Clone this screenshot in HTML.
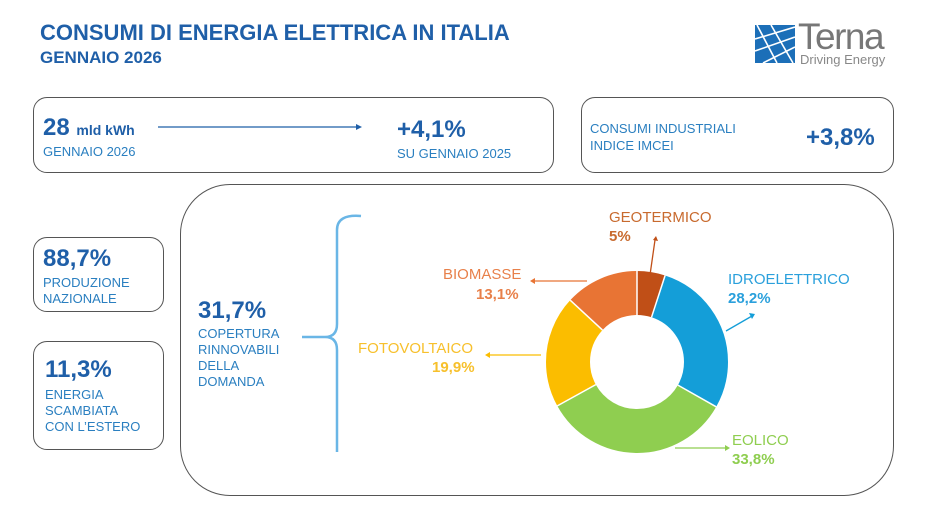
<!DOCTYPE html>
<html><head><meta charset="utf-8"><style>
body{margin:0;width:925px;height:509px;background:#fff;font-family:"Liberation Sans",sans-serif;position:relative;overflow:hidden}
.a{position:absolute;white-space:nowrap}
.box{position:absolute;border:1px solid #555;border-radius:14px;box-sizing:border-box}
.b{color:#1f5fa8;font-weight:bold}
.l{color:#2a7fc0}
</style></head><body>
<div class="a b" style="left:40px;top:20px;font-size:22px">CONSUMI DI ENERGIA ELETTRICA IN ITALIA</div>
<div class="a b" style="left:40px;top:48px;font-size:17px">GENNAIO 2026</div>
<svg class="a" style="left:755px;top:25px" width="40" height="38"><rect width="40" height="38" fill="#1c6fb8"/><path d="M0 14 L40 2 M0 26 L40 12 M8 38 L40 22 M2 0 L22 38 M16 0 L38 38" stroke="#fff" stroke-width="1.6" fill="none"/></svg>
<div class="a" style="left:798px;top:16px;font-size:37px;color:#777;letter-spacing:-1.5px">Terna</div>
<div class="a" style="left:800px;top:52px;font-size:13px;color:#888">Driving Energy</div>

<div class="box" style="left:33px;top:97px;width:521px;height:76px"></div>
<div class="a b" style="left:43px;top:114px;font-size:24px">28 <span style="font-size:14px">mld kWh</span></div>
<div class="a l" style="left:43px;top:144px;font-size:13px">GENNAIO 2026</div>
<svg class="a" style="left:158px;top:122px" width="205" height="10"><line x1="0" y1="5" x2="198" y2="5" stroke="#1f5fa8" stroke-width="1.3"/><path d="M198 2 L204 5 L198 8Z" fill="#1f5fa8"/></svg>
<div class="a b" style="left:397px;top:116px;font-size:24px">+4,1%</div>
<div class="a l" style="left:397px;top:146px;font-size:13px">SU GENNAIO 2025</div>

<div class="box" style="left:581px;top:97px;width:313px;height:76px"></div>
<div class="a l" style="left:590px;top:120px;font-size:13px;line-height:17px">CONSUMI INDUSTRIALI<br>INDICE IMCEI</div>
<div class="a b" style="left:806px;top:124px;font-size:24px">+3,8%</div>

<div class="box" style="left:33px;top:237px;width:131px;height:75px"></div>
<div class="a b" style="left:43px;top:245px;font-size:24px">88,7%</div>
<div class="a l" style="left:43px;top:275px;font-size:13px;line-height:16px">PRODUZIONE<br>NAZIONALE</div>
<div class="box" style="left:33px;top:341px;width:131px;height:109px"></div>
<div class="a b" style="left:45px;top:356px;font-size:24px">11,3%</div>
<div class="a l" style="left:45px;top:387px;font-size:13px;line-height:16px">ENERGIA<br>SCAMBIATA<br>CON L’ESTERO</div>

<div class="box" style="left:180px;top:184px;width:714px;height:312px;border-radius:50px"></div>
<div class="a b" style="left:198px;top:297px;font-size:24px">31,7%</div>
<div class="a l" style="left:198px;top:326px;font-size:13px;line-height:16px">COPERTURA<br>RINNOVABILI<br>DELLA<br>DOMANDA</div>
<svg class="a" style="left:295px;top:210px" width="70" height="250"><path d="M66 6 Q42 4 42 20 L42 114 Q42 127 30 127 Q42 127 42 140 L42 242 M30 127 L7 127" stroke="#6ab6e6" stroke-width="2.5" fill="none"/></svg>

<svg class="a" style="left:0;top:0" width="925" height="509">
<g transform="rotate(-90 637 362)" fill="none" stroke-width="44">
<circle cx="637" cy="362" r="69" stroke="#c04f17" stroke-dasharray="21.7 500" stroke-dashoffset="0"/>
<circle cx="637" cy="362" r="69" stroke="#149ed8" stroke-dasharray="122.2 500" stroke-dashoffset="-21.7"/>
<circle cx="637" cy="362" r="69" stroke="#8fce50" stroke-dasharray="146.5 500" stroke-dashoffset="-143.9"/>
<circle cx="637" cy="362" r="69" stroke="#fbbd00" stroke-dasharray="86.3 500" stroke-dashoffset="-290.4"/>
<circle cx="637" cy="362" r="69" stroke="#e87434" stroke-dasharray="56.8 500" stroke-dashoffset="-376.7"/>
</g>
<g stroke="#fff" stroke-width="1.5">
<line x1="637" y1="315" x2="637" y2="270"/><line x1="651.5" y1="317.3" x2="665.1" y2="275.5"/>
<line x1="677.9" y1="385.1" x2="716.2" y2="406.8"/><line x1="595.8" y1="384.6" x2="557.3" y2="405.9"/>
<line x1="602.5" y1="330.1" x2="570.2" y2="300.2"/></g>
<g stroke-width="1.3" fill="none">
<path d="M650 275 L655 240" stroke="#c04f17"/><path d="M587 281 L535 281" stroke="#e87434"/>
<path d="M541 355 L490 355" stroke="#fbbd00"/><path d="M726 331 L752 316" stroke="#149ed8"/>
<path d="M675 448 L725 448" stroke="#8fce50"/></g>
<path d="M653 240 L656 236 L658 241Z" fill="#c04f17"/>
<path d="M535 278 L530 281 L535 284Z" fill="#e87434"/>
<path d="M490 352 L485 355 L490 358Z" fill="#fbbd00"/>
<path d="M749 313 L755 314 L752 319Z" fill="#149ed8"/>
<path d="M725 445 L730 448 L725 451Z" fill="#8fce50"/>
</svg>
<div class="a" style="left:609px;top:209px;font-size:15px;color:#c86a2e">GEOTERMICO</div>
<div class="a" style="left:609px;top:228px;font-size:15px;color:#c86a2e;font-weight:bold">5%</div>
<div class="a" style="left:443px;top:266px;font-size:15px;color:#e8804a">BIOMASSE</div>
<div class="a" style="left:476px;top:286px;font-size:15px;color:#e8804a;font-weight:bold">13,1%</div>
<div class="a" style="left:358px;top:340px;font-size:15px;color:#f7c02c">FOTOVOLTAICO</div>
<div class="a" style="left:432px;top:359px;font-size:15px;color:#f7c02c;font-weight:bold">19,9%</div>
<div class="a" style="left:728px;top:271px;font-size:15px;color:#2aa0dc">IDROELETTRICO</div>
<div class="a" style="left:728px;top:290px;font-size:15px;color:#2aa0dc;font-weight:bold">28,2%</div>
<div class="a" style="left:732px;top:432px;font-size:15px;color:#8fce50">EOLICO</div>
<div class="a" style="left:732px;top:451px;font-size:15px;color:#8fce50;font-weight:bold">33,8%</div>
</body></html>
